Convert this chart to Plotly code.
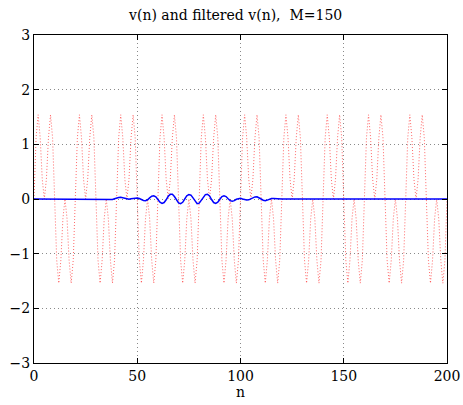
import plotly.graph_objects as go

n = list(range(201))

# v(n): red dotted signal (period of ~20 samples)
v = [
    0.00, 1.12, 1.54, 1.12, 0.36, 0.00, 0.36, 1.12, 1.54, 1.12,
    0.00, -1.12, -1.54, -1.12, -0.36, 0.00, -0.36, -1.12, -1.54, -1.12,
    0.00, 1.12, 1.54, 1.12, 0.36, 0.00, 0.36, 1.12, 1.54, 1.12,
    0.00, -1.12, -1.54, -1.12, -0.36, 0.00, -0.36, -1.12, -1.54, -1.12,
    0.00, 1.12, 1.54, 1.12, 0.36, 0.00, 0.36, 1.12, 1.54, 1.12,
    0.00, -1.12, -1.54, -1.12, -0.36, 0.00, -0.36, -1.12, -1.54, -1.12,
    0.00, 1.12, 1.54, 1.12, 0.36, 0.00, 0.36, 1.12, 1.54, 1.12,
    0.00, -1.12, -1.54, -1.12, -0.36, 0.00, -0.36, -1.12, -1.54, -1.12,
    0.00, 1.12, 1.54, 1.12, 0.36, 0.00, 0.36, 1.12, 1.54, 1.12,
    0.00, -1.12, -1.54, -1.12, -0.36, 0.00, -0.36, -1.12, -1.54, -1.12,
    0.00, 1.12, 1.54, 1.12, 0.36, 0.00, 0.36, 1.12, 1.54, 1.12,
    0.00, -1.12, -1.54, -1.12, -0.36, 0.00, -0.36, -1.12, -1.54, -1.12,
    0.00, 1.12, 1.54, 1.12, 0.36, 0.00, 0.36, 1.12, 1.54, 1.12,
    0.00, -1.12, -1.54, -1.12, -0.36, 0.00, -0.36, -1.12, -1.54, -1.12,
    0.00, 1.12, 1.54, 1.12, 0.36, 0.00, 0.36, 1.12, 1.54, 1.12,
    0.00, -1.12, -1.54, -1.12, -0.36, 0.00, -0.36, -1.12, -1.54, -1.12,
    0.00, 1.12, 1.54, 1.12, 0.36, 0.00, 0.36, 1.12, 1.54, 1.12,
    0.00, -1.12, -1.54, -1.12, -0.36, 0.00, -0.36, -1.12, -1.54, -1.12,
    0.00, 1.12, 1.54, 1.12, 0.36, 0.00, 0.36, 1.12, 1.54, 1.12,
    0.00, -1.12, -1.54, -1.12, -0.36, 0.00, -0.36, -1.12, -1.54, -1.12,
    0.00,
]

# filtered v(n): blue solid line
y_filt = [
    0, 0, 0, 0, 0, 0, 0, 0, 0, 0,
    0, 0, 0, 0, 0, 0, 0, 0, 0, 0,
    0, 0, 0, 0, 0, 0, 0, 0, 0, 0,
    0, 0, 0, 0, 0, 0, -0.005, -0.01, -0.008, 0.005,
    0.02, 0.028, 0.03, 0.022, 0.01, 0.0, -0.003, 0.003, 0.012, 0.02,
    0.02, 0.008, -0.012, -0.027, -0.03, -0.015, 0.02, 0.05, 0.06, 0.04,
    -0.01, -0.06, -0.08, -0.065, -0.015, 0.05, 0.085, 0.085, 0.045, -0.02,
    -0.07, -0.085, -0.06, 0.0, 0.06, 0.08, 0.07, 0.02, -0.045, -0.085,
    -0.075, -0.03, 0.035, 0.08, 0.088, 0.055, -0.01, -0.065, -0.08, -0.06,
    -0.005, 0.045, 0.06, 0.045, 0.005, -0.03, -0.04, -0.03, -0.005, 0.01,
    0.012, 0.0, -0.015, -0.02, -0.015, 0.005, 0.025, 0.038, 0.04, 0.025,
    0.0, -0.022, -0.03, -0.02, -0.005, 0.008, 0.01, 0.005, 0.0, -0.003,
    0, 0, 0, 0, 0, 0, 0, 0, 0, 0,
    0, 0, 0, 0, 0, 0, 0, 0, 0, 0,
    0, 0, 0, 0, 0, 0, 0, 0, 0, 0,
    0, 0, 0, 0, 0, 0, 0, 0, 0, 0,
    0, 0, 0, 0, 0, 0, 0, 0, 0, 0,
    0, 0, 0, 0, 0, 0, 0, 0, 0, 0,
    0, 0, 0, 0, 0, 0, 0, 0, 0, 0,
    0, 0, 0, 0, 0, 0, 0, 0, 0, 0,
    0,
]

x_ticks = [0, 50, 100, 150, 200]
y_ticks = [-3, -2, -1, 0, 1, 2, 3]
title_text = "v(n) and filtered v(n),  M=150"
x_label = "n"

FONT = "DejaVu Serif"

fig = go.Figure()
fig.add_trace(go.Scatter(x=n, y=v, mode="lines",
                         line=dict(color="rgba(255,40,40,0.7)", width=1, dash="1px,2px"),
                         showlegend=False))
fig.add_trace(go.Scatter(x=n, y=y_filt, mode="lines",
                         line=dict(color="#0000ff", width=1.5),
                         showlegend=False))

axis_common = dict(
    showgrid=True, gridcolor="#8a8a8a", griddash="1px,3px", gridwidth=1,
    zeroline=False, showline=True, linecolor="black", linewidth=1,
    mirror="ticks", ticks="inside", ticklen=5, tickcolor="black",
    automargin=False,
    tickfont=dict(family=FONT, size=14, color="black"),
)

fig.update_layout(
    template="none",
    width=463, height=405,
    margin=dict(l=34, r=16, t=35, b=42, pad=0),
    paper_bgcolor="white", plot_bgcolor="white",
    title=dict(text=title_text, x=0.509, xanchor="center",
               y=1 - 15 / 405, yanchor="middle", yref="container",
               font=dict(family=FONT, size=14, color="black")),
    xaxis=dict(range=[0, 200], tickvals=x_ticks, **axis_common),
    yaxis=dict(range=[-3, 3], tickvals=y_ticks, **axis_common),
    annotations=[dict(text=x_label, x=100, xref="x", y=-29 / 328, yref="paper",
                      xanchor="center", yanchor="middle", showarrow=False,
                      font=dict(family=FONT, size=14, color="black"))],
)

fig.write_html("out.html",
               config={"displayModeBar": False},
               post_script="document.body.style.margin='0';document.body.style.overflow='hidden';")
